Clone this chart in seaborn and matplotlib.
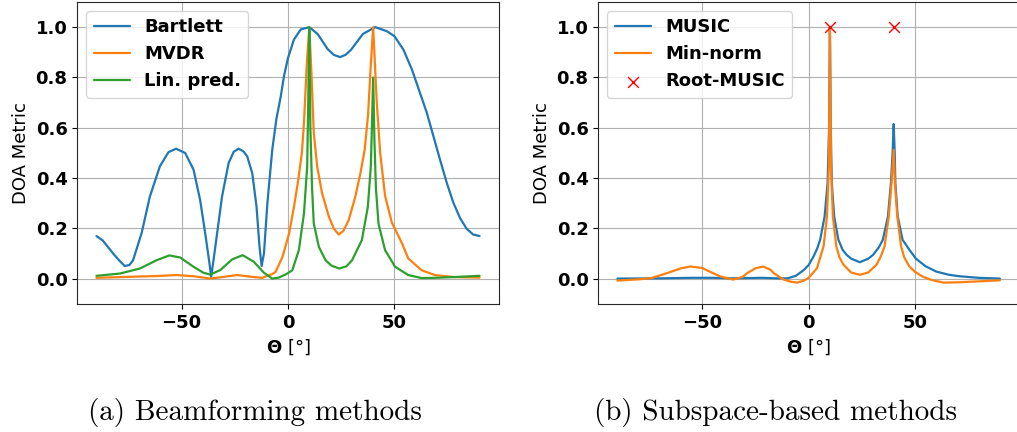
import numpy as np
import pandas as pd
import matplotlib
matplotlib.use("Agg")
import matplotlib.pyplot as plt
import seaborn as sns

# values (theta in degrees, normalised DOA metric)
bartlett_theta = [-90, -87, -82.2, -79, -76.7, -74.5, -72.8, -68.8, -64.9, -60.2, -56.2, -52.6,
                  -48.3, -44.4, -41.3, -38.9, -36.9, -36.1, -35, -33.1, -31, -27.9, -25.5, -23.2,
                  -21, -19.2, -16.8, -14.8, -13.4, -12.4, -11.3, -9.7, -7.4, -5.5, -3.4, -1.9, 0,
                  2.8, 6, 10, 13.9, 18.6, 21.5, 24.4, 27, 29.6, 35.2, 41, 46.4, 50, 54.2, 58.2,
                  62, 65.2, 68.3, 71.4, 74.6, 77.7, 80.8, 83.9, 87, 90]
bartlett_val = [0.17, 0.152, 0.101, 0.07, 0.051, 0.055, 0.074, 0.181, 0.327, 0.447, 0.503, 0.517,
                0.5, 0.434, 0.314, 0.181, 0.061, 0.008, 0.074, 0.194, 0.327, 0.46, 0.505, 0.517,
                0.507, 0.487, 0.42, 0.287, 0.128, 0.051, 0.101, 0.3, 0.513, 0.633, 0.725, 0.805,
                0.878, 0.951, 0.991, 1.0, 0.973, 0.913, 0.89, 0.881, 0.89, 0.91, 0.973, 1.0,
                0.984, 0.964, 0.911, 0.832, 0.739, 0.66, 0.567, 0.474, 0.381, 0.302, 0.242,
                0.199, 0.176, 0.17]

mvdr_theta = [-90, -74.3, -62, -52.3, -44, -36.5, -30, -23.9, -17, -12.1, -7.4, -5.8, -2.6, 0.5,
              2.8, 4.8, 6.5, 7.5, 8.8, 10, 11, 12.1, 13.7, 16, 19.2, 21.5, 23.8, 26, 28.5, 31.6,
              34, 36, 37.6, 38.9, 40, 41.7, 43.3, 45.6, 48.8, 53.5, 56.5, 62.8, 69, 78, 90]
mvdr_val = [0.004, 0.008, 0.011, 0.015, 0.01, 0.001, 0.008, 0.015, 0.008, 0.004, 0.019, 0.028,
            0.087, 0.18, 0.286, 0.392, 0.5, 0.62, 0.85, 1.0, 0.82, 0.58, 0.446, 0.34, 0.247,
            0.2, 0.176, 0.19, 0.233, 0.326, 0.419, 0.512, 0.65, 0.85, 1.0, 0.7, 0.5, 0.33,
            0.223, 0.142, 0.081, 0.034, 0.015, 0.007, 0.005]

linpred_theta = [-90, -79, -69.6, -61.7, -55.8, -50.7, -44.4, -39.7, -36.5, -31.8, -26.3, -21.3,
                 -16.1, -11.3, -7.4, -4.3, -1, 2, 5.1, 7.5, 9.0, 9.5, 10, 10.5, 11.3, 12.1, 14.5,
                 17.6, 20.5, 24.1, 27.5, 30.1, 34.7, 37.5, 38.9, 39.4, 40, 40.6, 41.3, 42.5, 45.6,
                 50.3, 56.5, 62.8, 69, 78, 90]
linpred_val = [0.012, 0.021, 0.041, 0.074, 0.093, 0.085, 0.048, 0.024, 0.017, 0.035, 0.077,
               0.094, 0.068, 0.024, 0.001, 0.005, 0.018, 0.034, 0.114, 0.26, 0.446, 0.7, 1.0,
               0.6, 0.36, 0.22, 0.127, 0.074, 0.052, 0.041, 0.05, 0.074, 0.154, 0.286, 0.446,
               0.6, 0.8, 0.55, 0.36, 0.22, 0.114, 0.048, 0.015, 0.003, 0.004, 0.007, 0.012]

music_theta = [-90, -70, -55, -45, -36, -22, -15, -10, -6, -2.3, 0, 2.3, 4, 5.4, 7.5, 8.9, 9.6,
               10, 10.4, 10.9, 12, 14, 16, 17.9, 20, 24.1, 28, 30.3, 33, 34.9, 37.3, 38.7, 39.5,
               40, 40.5, 40.8, 41.9, 44.2, 47.6, 50.5, 55, 60, 66, 71.3, 80, 90]
music_val = [0.001, 0.002, 0.004, 0.004, 0.002, 0.004, 0.002, 0.002, 0.012, 0.035, 0.055,
             0.089, 0.12, 0.155, 0.248, 0.38, 0.6, 1.0, 0.6, 0.38, 0.248, 0.155, 0.115, 0.095,
             0.08, 0.066, 0.08, 0.095, 0.125, 0.155, 0.248, 0.38, 0.5, 0.615, 0.5, 0.38, 0.248,
             0.155, 0.113, 0.08, 0.05, 0.029, 0.016, 0.01, 0.004, 0.001]

minnorm_theta = [-90, -80, -74, -66.5, -60, -55.6, -50, -47.7, -41.5, -35.5, -31, -28.9, -25,
                 -21.4, -18, -16.5, -11.8, -8, -5.5, -2.5, 0, 3.9, 7, 8.6, 9.5, 10, 10.5, 11.4,
                 13, 14.5, 16.4, 20, 24.1, 28, 31.9, 34, 35.7, 37.7, 39, 40, 40.6, 41.7, 43.5,
                 45, 47.4, 50, 53.6, 58, 63.5, 70, 80, 90]
minnorm_val = [-0.007, -0.002, 0.003, 0.023, 0.042, 0.049, 0.043, 0.033, 0.009, -0.003, 0.008,
               0.023, 0.042, 0.049, 0.036, 0.023, -0.003, -0.012, -0.015, -0.008, 0.004, 0.042,
               0.129, 0.248, 0.447, 1.0, 0.447, 0.248, 0.129, 0.085, 0.056, 0.025, 0.016,
               0.025, 0.056, 0.09, 0.129, 0.248, 0.38, 0.513, 0.38, 0.248, 0.129, 0.085, 0.049,
               0.028, 0.009, -0.005, -0.015, -0.014, -0.01, -0.006]

rootmusic_theta = [10, 40]
rootmusic_val = [1.0, 1.0]

sns.set_style("ticks")
plt.rcParams["font.size"] = 13
plt.rcParams["font.family"] = ["DejaVu Sans"]
plt.rcParams["mathtext.fontset"] = "dejavusans"
for key in ["text.color", "axes.labelcolor", "xtick.color", "ytick.color"]:
    plt.rcParams[key] = "black"

fig = plt.figure(figsize=(10.17, 4.32), dpi=100)
ax1 = fig.add_axes([0.076, 0.2963, 0.4144, 0.6991])
ax2 = fig.add_axes([0.5883, 0.2963, 0.4137, 0.6991])

c_blue, c_orange, c_green = sns.color_palette("tab10")[:3]

# (a) beamforming
for th, val, name, col in [(bartlett_theta, bartlett_val, "Bartlett", c_blue),
                           (mvdr_theta, mvdr_val, "MVDR", c_orange),
                           (linpred_theta, linpred_val, "Lin. pred.", c_green)]:
    df = pd.DataFrame({"theta": th, "metric": val})
    sns.lineplot(data=df, x="theta", y="metric", ax=ax1, color=col, label=name,
                 estimator=None, sort=False, linewidth=1.6)

# (b) subspace
for th, val, name, col in [(music_theta, music_val, "MUSIC", c_blue),
                           (minnorm_theta, minnorm_val, "Min-norm", c_orange)]:
    df = pd.DataFrame({"theta": th, "metric": val})
    sns.lineplot(data=df, x="theta", y="metric", ax=ax2, color=col, label=name,
                 estimator=None, sort=False, linewidth=1.6)
roots = pd.DataFrame({"theta": rootmusic_theta, "metric": rootmusic_val})
sns.scatterplot(data=roots, x="theta", y="metric", ax=ax2, marker="x", color="red",
                s=60, linewidth=1, label="Root-MUSIC", zorder=5)

for ax in (ax1, ax2):
    ax.set_xlim(-99, 99)
    ax.set_ylim(-0.1, 1.1)
    ax.set_xticks([-50, 0, 50])
    ax.set_yticks([0.0, 0.2, 0.4, 0.6, 0.8, 1.0])
    ax.grid(True, color="#b0b0b0", linewidth=0.8)
    ax.tick_params(labelsize=13, direction="out", length=3.5)
    for lab in ax.get_xticklabels() + ax.get_yticklabels():
        lab.set_fontweight("bold")
    ax.set_xlabel(r"$\mathbf{\Theta}$ [°]", fontsize=13)
    ax.set_ylabel("DOA Metric", fontsize=13)
    ax.legend(loc="upper left", prop={"weight": "bold", "size": 13})

fig.text(0.2504, 0.046, "(a) Beamforming methods", ha="center", va="center",
         fontsize=21, family="cmr10")
fig.text(0.7626, 0.046, "(b) Subspace-based methods", ha="center", va="center",
         fontsize=21, family="cmr10")

fig.savefig("out.png", dpi=100)
